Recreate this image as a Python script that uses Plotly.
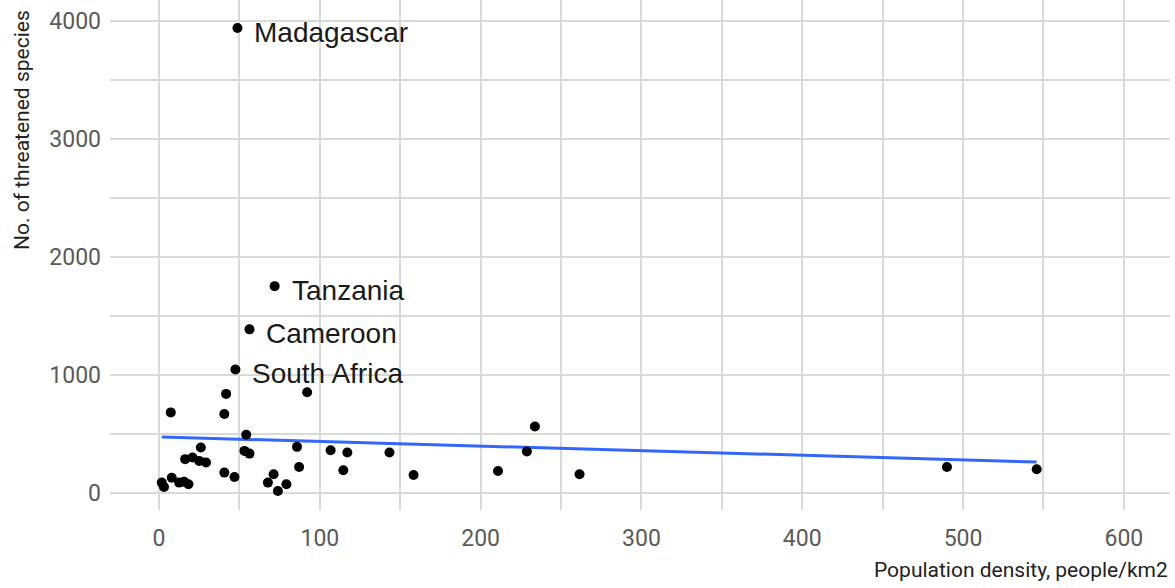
import plotly.graph_objects as go

# Population density (people/km2) and number of threatened species per country
density = [48.75, 71.9, 56.25, 47.5,
           7.3, 41.7, 40.6, 92.1,
           54.2, 53.1, 56.25, 26.0, 16.25, 20.8, 25.0, 29.2,
           1.7, 3.1, 7.9, 12.5, 15.6, 18.3,
           40.6, 46.9, 67.7, 71.25, 73.9, 79.2,
           85.8, 87.1, 106.7, 117.1, 114.6, 143.3, 158.3,
           210.8, 228.75, 233.75, 261.5, 490.0, 545.8]
threatened = [3940, 1753, 1387, 1047,
              683, 840, 670, 854,
              494, 357, 334, 386, 287, 301, 272, 258,
              88, 51, 130, 88, 96, 74,
              173, 136, 88, 159, 17, 74,
              391, 221, 363, 343, 193, 343, 153,
              187, 352, 564, 159, 221, 201]
country_labels = ["Madagascar", "Tanzania", "Cameroon", "South Africa"]

# Fitted linear trend at both ends of the density range
trend_x = [1.7, 545.8]
trend_y = [475, 263]

x_ticks = [0, 100, 200, 300, 400, 500, 600]
y_ticks = [0, 1000, 2000, 3000, 4000]

fig = go.Figure()

fig.add_trace(go.Scatter(x=trend_x, y=trend_y, mode="lines",
                         line=dict(color="#3366FF", width=3),
                         hoverinfo="skip", showlegend=False))

fig.add_trace(go.Scatter(x=density, y=threatened, mode="markers",
                         marker=dict(color="black", size=10),
                         showlegend=False))

for i, name in enumerate(country_labels):
    fig.add_annotation(x=density[i], y=threatened[i], text=name,
                       showarrow=False, xanchor="left", yanchor="middle",
                       xshift=15, yshift=-4,
                       font=dict(family="Liberation Sans, Arial", size=28,
                                 color="#1a1a1a"))

grid_col = "#d9d9d9"
tick_font = dict(family="Roboto", size=23, color="#5a5a5a")

fig.update_xaxes(range=[-30.5, 628.7], tickvals=x_ticks,
                 showgrid=True, gridcolor=grid_col, gridwidth=2,
                 minor=dict(showgrid=True, dtick=50, tick0=0,
                            gridcolor=grid_col, gridwidth=2),
                 zeroline=False, showline=False, ticks="",
                 tickfont=tick_font, ticklabelstandoff=12)
fig.update_yaxes(range=[-144, 4178], tickvals=y_ticks,
                 showgrid=True, gridcolor=grid_col, gridwidth=2,
                 minor=dict(showgrid=True, dtick=500, tick0=0,
                            gridcolor=grid_col, gridwidth=2),
                 zeroline=False, showline=False, ticks="",
                 tickfont=tick_font, ticklabelstandoff=8)

# Axis titles (right-aligned on x, top-aligned on y)
fig.add_annotation(text="Population density, people/km2", xref="paper", yref="paper",
                   x=1, y=0, xanchor="right", yanchor="top", yshift=-46,
                   showarrow=False,
                   font=dict(family="Roboto", size=21, color="#222222"))
fig.add_annotation(text="No. of threatened species", xref="paper", yref="paper",
                   x=0, y=1, xanchor="center", yanchor="top", xshift=-88, yshift=-8,
                   textangle=-90, showarrow=False,
                   font=dict(family="Roboto", size=21, color="#222222"))

fig.update_layout(width=1175, height=588,
                  margin=dict(l=110, r=5, t=0, b=78),
                  plot_bgcolor="white", paper_bgcolor="white")

fig.write_html("out.html")
